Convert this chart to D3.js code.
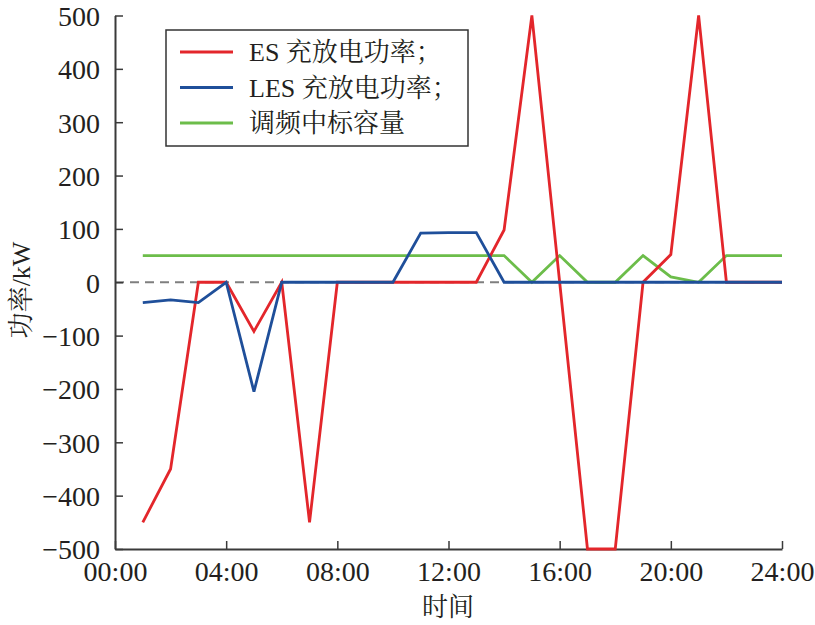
<!DOCTYPE html>
<html><head><meta charset="utf-8">
<script src="https://cdn.jsdelivr.net/npm/d3@7"></script>
<style>
body{margin:0;background:#fff;}
svg text{font-family:"Liberation Serif","Noto Serif CJK SC","Noto Sans CJK SC",serif !important;fill:#231f20;}
</style></head><body>
<svg id="c" width="815" height="625"></svg>
<script>
const hours = [1,2,3,4,5,6,7,8,9,10,11,12,13,14,15,16,17,18,19,20,21,22,23,24];
const esPower  = [-450,-350,0,0,-92,0,-450,0,0,0,0,0,0,98,500,0,-500,-500,0,52,500,0,0,0];
const lesPower = [-38,-33,-38,0,-205,0,0,0,0,0,92,93,93,0,0,0,0,0,0,0,0,0,0,0];
const regCap   = [50,50,50,50,50,50,50,50,50,50,50,50,50,50,0,50,0,0,50,10,0,50,50,50];
const xTickVals = [0,4,8,12,16,20,24];
const xTickLabels = ["00:00","04:00","08:00","12:00","16:00","20:00","24:00"];
const yTickVals = [-500,-400,-300,-200,-100,0,100,200,300,400,500];
const seriesNames = ["ES 充放电功率；","LES 充放电功率；","调频中标容量"];
const seriesColors = ["#e3262b","#1f4f9a","#6cbd4a"];

const svg = d3.select("#c");
const L=115, R=782, T=15.5, B=549;
const x = d3.scaleLinear().domain([0,24]).range([L,R]);
const y = d3.scaleLinear().domain([-500,500]).range([B,T]);
const axisColor = "#3a3a3a";

svg.append("line").attr("x1",x(0)).attr("x2",x(24)).attr("y1",y(0)).attr("y2",y(0))
  .attr("stroke","#7f7f7f").attr("stroke-width",2).attr("stroke-dasharray","9,6");

const xAxis = svg.append("g").attr("transform",`translate(0,${B})`)
  .call(d3.axisBottom(x).tickValues(xTickVals).tickFormat((d,i)=>xTickLabels[i]).tickSizeInner(-8).tickSizeOuter(0).tickPadding(12));
const yAxis = svg.append("g").attr("transform",`translate(${L},0)`)
  .call(d3.axisLeft(y).tickValues(yTickVals).tickFormat(d=> d<0 ? "\u2212"+Math.abs(d) : d).tickSizeInner(-8).tickSizeOuter(0).tickPadding(15));
[xAxis,yAxis].forEach(a=>{
  a.attr("font-family",null).attr("font-size",null);
  a.select(".domain").attr("stroke",axisColor).attr("stroke-width",2);
  a.selectAll(".tick line").attr("stroke",axisColor).attr("stroke-width",1.5);
  a.selectAll("text").attr("font-size",28).attr("fill","#231f20");
});
xAxis.selectAll("text").attr("dy","0.71em");
yAxis.selectAll("text").attr("dy","0.35em");

const data = [esPower, lesPower, regCap];
const line = d3.line().x((d,i)=>x(hours[i])).y(d=>y(d));
[2,0,1].forEach(k=>{
  svg.append("path").datum(data[k]).attr("d",line).attr("fill","none")
    .attr("stroke",seriesColors[k]).attr("stroke-width",2.8).attr("stroke-linejoin","miter");
});

const lg = svg.append("g");
lg.append("rect").attr("x",166).attr("y",30).attr("width",302).attr("height",116)
  .attr("fill","#fff").attr("stroke","#333").attr("stroke-width",1.5);
seriesNames.forEach((n,i)=>{
  const cy = 52 + i*35.5;
  lg.append("line").attr("x1",180).attr("x2",233).attr("y1",cy).attr("y2",cy)
    .attr("stroke",seriesColors[i]).attr("stroke-width",3);
  lg.append("text").attr("x",249).attr("y",cy).attr("dy","0.36em").attr("font-size",26).text(n);
});

svg.append("text").attr("x",448).attr("y",616).attr("text-anchor","middle").attr("font-size",26).text("时间");
svg.append("text").attr("transform","translate(30,290) rotate(-90)").attr("text-anchor","middle")
  .attr("font-size",26).text("功率/kW");
</script></body></html>
